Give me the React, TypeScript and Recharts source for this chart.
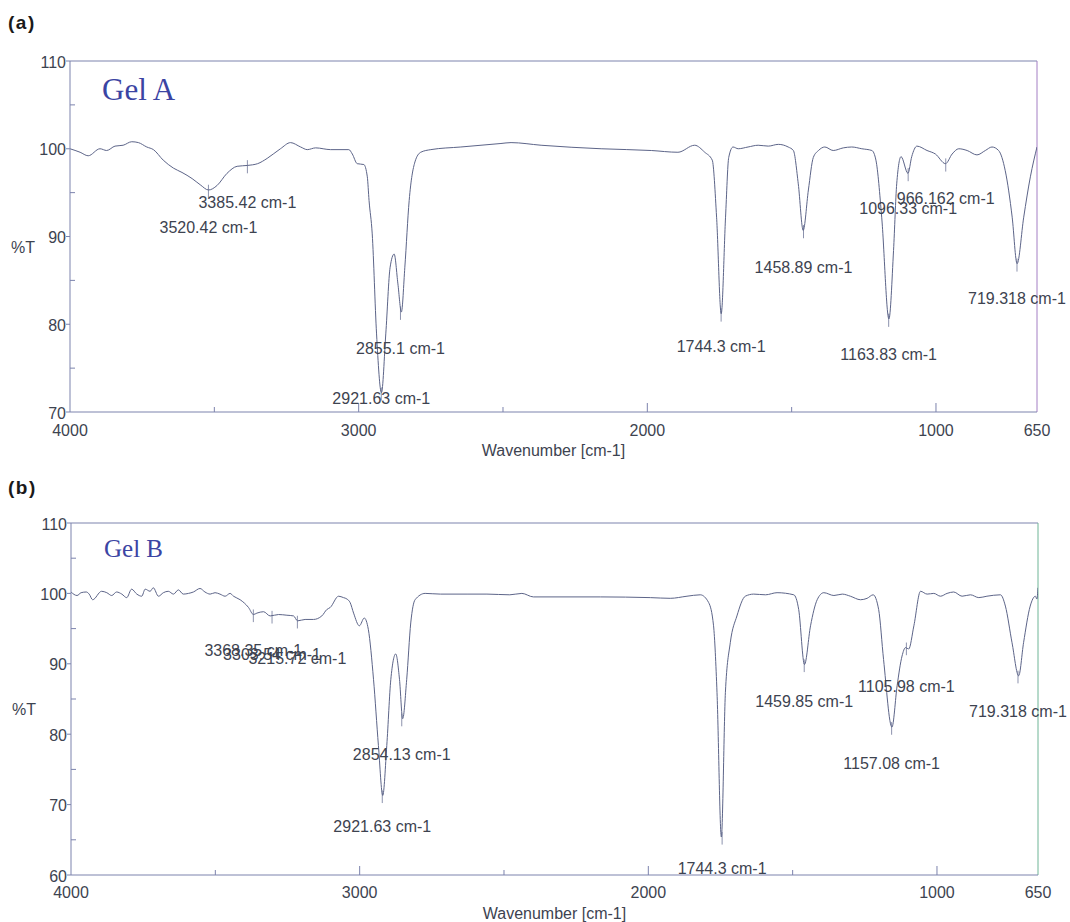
import { LineChart, Line, XAxis, YAxis, ReferenceLine, ReferenceDot } from "recharts";

// wavenumber axis (cm-1), shared by both panels
const WAVE_TICKS = [4000, 3500, 3000, 2500, 2000, 1500, 1000, 650];
const WAVE_LABELS = [4000, 3000, 2000, 1000, 650];
const GEL_A_T_TICKS = [70, 75, 80, 85, 90, 95, 100, 105, 110];
const GEL_B_T_TICKS = [60, 65, 70, 75, 80, 85, 90, 95, 100, 105, 110];

// [wavenumber, %T]
const GEL_A_SPECTRUM: [number, number][] = [
  [4000, 100.0], [3965, 99.6], [3937, 99.2], [3896, 100.0], [3873, 99.8], [3844, 100.3],
  [3816, 100.4], [3786, 100.8], [3763, 100.7], [3734, 100.2], [3711, 99.9], [3677, 98.7],
  [3642, 97.8], [3612, 97.3], [3577, 96.6], [3549, 95.9], [3520, 95.3], [3491, 95.8],
  [3456, 97.2], [3421, 98.0], [3385, 98.1], [3350, 98.3], [3317, 98.9], [3271, 100.0],
  [3236, 100.7], [3201, 100.2], [3178, 99.9], [3149, 100.1], [3097, 99.9], [3034, 99.9],
  [3022, 99.4], [3005, 98.3], [2982, 98.2], [2970, 96.8], [2964, 94.1], [2953, 90.3],
  [2938, 78.9], [2921, 72.2], [2906, 78.9], [2891, 86.5], [2877, 88.0], [2864, 84.6],
  [2852, 81.4], [2840, 86.5], [2825, 94.1], [2805, 98.5], [2785, 99.6], [2750, 99.9],
  [2646, 100.2], [2507, 100.6], [2472, 100.7], [2368, 100.4], [2160, 100.0], [1986, 99.8],
  [1894, 99.6], [1836, 100.4], [1801, 99.6], [1775, 98.7], [1760, 92.2], [1744, 81.2],
  [1729, 92.2], [1718, 99.0], [1703, 100.2], [1685, 100.0], [1651, 100.2], [1616, 100.4],
  [1581, 100.3], [1546, 100.5], [1512, 100.2], [1494, 99.8], [1477, 96.0], [1460, 90.7],
  [1442, 95.3], [1425, 99.0], [1407, 99.8], [1385, 100.2], [1356, 99.8], [1321, 100.1],
  [1292, 100.2], [1257, 100.0], [1222, 99.8], [1208, 98.7], [1188, 92.2], [1163, 80.6],
  [1147, 88.4], [1136, 96.0], [1121, 99.1], [1097, 97.2], [1084, 99.1], [1066, 100.3],
  [1031, 99.8], [1002, 99.4], [967, 98.3], [944, 99.4], [921, 100.0], [892, 99.8],
  [858, 99.3], [829, 99.8], [806, 100.2], [783, 99.8], [760, 97.5], [736, 92.2],
  [719, 86.9], [696, 92.2], [673, 96.8], [650, 100.2],
];

const GEL_B_SPECTRUM: [number, number][] = [
  [4000, 100.2], [3979, 99.7], [3965, 100.1], [3947, 100.2], [3937, 99.9], [3925, 99.1],
  [3894, 100.3], [3876, 100.1], [3859, 99.7], [3842, 100.2], [3824, 99.9], [3807, 99.4],
  [3790, 100.6], [3772, 99.9], [3755, 99.6], [3743, 100.6], [3726, 100.3], [3715, 100.8],
  [3697, 99.6], [3680, 100.1], [3663, 100.3], [3645, 99.9], [3628, 100.5], [3611, 99.9],
  [3593, 100.0], [3576, 100.2], [3553, 100.7], [3536, 100.2], [3518, 99.9], [3501, 100.1],
  [3484, 99.9], [3466, 99.6], [3449, 100.0], [3437, 99.6], [3414, 99.1], [3385, 98.0],
  [3368, 97.0], [3356, 97.2], [3333, 97.4], [3310, 96.8], [3281, 97.0], [3252, 96.9],
  [3229, 96.8], [3215, 96.1], [3189, 96.3], [3160, 96.3], [3131, 96.8], [3114, 97.7],
  [3102, 98.0], [3073, 99.6], [3056, 99.4], [3044, 99.2], [3033, 98.7], [3021, 97.2],
  [3001, 95.4], [2984, 96.5], [2970, 94.9], [2952, 87.8], [2935, 78.4], [2920, 71.3],
  [2906, 78.4], [2892, 87.8], [2875, 91.4], [2862, 87.8], [2851, 82.2], [2837, 87.8],
  [2823, 95.8], [2808, 99.1], [2773, 100.0], [2720, 99.9], [2628, 99.9], [2559, 99.9],
  [2480, 99.8], [2438, 100.0], [2398, 99.5], [2166, 99.5], [1993, 99.4], [1924, 99.3],
  [1866, 99.6], [1820, 99.8], [1791, 98.7], [1774, 95.4], [1762, 85.9], [1747, 65.4],
  [1733, 85.9], [1716, 93.0], [1693, 96.8], [1664, 99.6], [1635, 99.9], [1594, 99.8],
  [1554, 100.1], [1496, 99.8], [1479, 97.7], [1459, 89.9], [1438, 95.4], [1415, 99.1],
  [1392, 100.1], [1357, 99.7], [1328, 99.9], [1300, 99.6], [1265, 99.1], [1242, 99.3],
  [1221, 99.8], [1202, 97.7], [1185, 90.6], [1156, 81.0], [1138, 86.9], [1121, 91.1],
  [1109, 92.3], [1098, 92.1], [1080, 95.4], [1057, 100.3], [1034, 99.9], [1011, 100.0],
  [988, 99.6], [965, 100.0], [942, 100.2], [913, 99.6], [884, 99.8], [855, 99.4],
  [827, 99.6], [780, 99.8], [763, 98.2], [740, 93.0], [717, 88.3], [700, 93.0],
  [677, 98.2], [659, 99.6], [654, 99.2], [650, 100.8],
];

// peak labels: wavenumber printed by the instrument, %T where the text sits
const GEL_A_PEAKS = [
  { wn: 3385.42, t: 93.9 }, { wn: 3520.42, t: 91.0 }, { wn: 2855.1, t: 77.3 },
  { wn: 2921.63, t: 71.6 }, { wn: 1744.3, t: 77.5 }, { wn: 1458.89, t: 86.5 },
  { wn: 1163.83, t: 76.6 }, { wn: 1096.33, t: 93.2 }, { wn: 966.162, t: 94.3 },
  { wn: 719.318, t: 82.9 },
];

const GEL_B_PEAKS = [
  { wn: 3368.35, t: 91.9 }, { wn: 3303.54, t: 91.4 }, { wn: 3215.72, t: 90.8 },
  { wn: 2854.13, t: 77.2 }, { wn: 2921.63, t: 66.9 }, { wn: 1744.3, t: 60.9 },
  { wn: 1459.85, t: 84.7 }, { wn: 1105.98, t: 86.8 }, { wn: 1157.08, t: 75.8 },
  { wn: 719.318, t: 83.2 },
];

const FONT = "'Liberation Sans', Arial, sans-serif";
const SERIF = "'Liberation Serif', 'Times New Roman', serif";
const AXIS = "#7c83ad";
const TEXT = "#3d4350";
const CURVE = "#5c6488";

// %T of the recorded point closest to a peak, for the small peak marker
function nearestT(spectrum: [number, number][], wn: number) {
  let best = spectrum[0];
  for (const p of spectrum) if (Math.abs(p[0] - wn) < Math.abs(best[0] - wn)) best = p;
  return best[1];
}

function makeWaveTick(labelDy: number) {
  return ({ x, y, payload }: any) => {
    const v = payload.value;
    const major = WAVE_LABELS.includes(v);
    const edge = v === 4000 || v === 650;
    return (
      <g>
        {!edge && <line x1={x} x2={x} y1={y} y2={y - (major ? 9 : 5)} stroke={AXIS} />}
        {major && (
          <text x={x} y={y + labelDy} textAnchor="middle" fill={TEXT} fontSize={16} fontFamily={FONT}>
            {v}
          </text>
        )}
      </g>
    );
  };
}

function TTick({ x, y, payload }: any) {
  const major = payload.value % 10 === 0;
  return (
    <g>
      {major ? (
        <line x1={x - 4} x2={x} y1={y} y2={y} stroke={AXIS} />
      ) : (
        <line x1={x} x2={x + 5} y1={y} y2={y} stroke={AXIS} />
      )}
      {major && (
        <text x={x - 4} y={y + 6.5} textAnchor="end" fill={TEXT} fontSize={16} fontFamily={FONT}>
          {payload.value}
        </text>
      )}
    </g>
  );
}

interface PanelProps {
  spectrum: [number, number][];
  peaks: { wn: number; t: number }[];
  tTicks: number[];
  marginLeft: number;
  marginRight: number;
  xAxisHeight: number;
  tickDy: number;
  rightEdge: string;
  markerLen: number;
}

function SpectrumPanel({ spectrum, peaks, tTicks, marginLeft, marginRight, xAxisHeight, tickDy, rightEdge, markerLen }: PanelProps) {
  const data = spectrum.map(([wn, t]) => ({ wn, t }));
  const tMin = tTicks[0];
  const tMax = tTicks[tTicks.length - 1];
  return (
    <LineChart width={1070} height={460} data={data} margin={{ top: 61, right: marginRight, bottom: 0, left: marginLeft }}>
      <XAxis
        dataKey="wn"
        type="number"
        domain={[650, 4000]}
        reversed
        ticks={WAVE_TICKS}
        interval={0}
        allowDataOverflow
        height={xAxisHeight}
        stroke={AXIS}
        tickSize={0}
        tickMargin={0}
        tickLine={false}
        tick={makeWaveTick(tickDy)}
        label={{
          content: ({ viewBox }: any) => (
            <text x={viewBox.x + viewBox.width / 2} y={viewBox.y + 43.5} textAnchor="middle" fill={TEXT} fontSize={16} fontFamily={FONT}>
              Wavenumber [cm-1]
            </text>
          ),
        }}
      />
      <YAxis
        type="number"
        domain={[tMin, tMax]}
        ticks={tTicks}
        interval={0}
        allowDataOverflow
        width={60}
        stroke={AXIS}
        tickSize={0}
        tickMargin={0}
        tickLine={false}
        tick={<TTick />}
        label={{
          content: ({ viewBox }: any) => (
            <text x={viewBox.x + 1} y={viewBox.y + viewBox.height / 2 + 16} fill={TEXT} fontSize={16} fontFamily={FONT}>
              %T
            </text>
          ),
        }}
      />
      <ReferenceLine y={tMax} stroke={AXIS} strokeWidth={1} />
      <ReferenceLine x={650} stroke={rightEdge} strokeWidth={1} />
      {peaks.map((p) => {
        const t = nearestT(spectrum, p.wn);
        return (
          <ReferenceLine
            key={`m-${p.wn}`}
            segment={[{ x: p.wn, y: t - markerLen * 0.6 }, { x: p.wn, y: t + markerLen * 0.4 }]}
            stroke="#8c92ad"
            strokeWidth={1}
          />
        );
      })}
      <Line
        dataKey="t"
        type="monotone"
        stroke={CURVE}
        strokeWidth={1}
        dot={false}
        isAnimationActive={false}
      />
      {peaks.map((p) => (
        <ReferenceDot
          key={`${p.wn}-${p.t}`}
          x={p.wn}
          y={p.t}
          r={0}
          stroke="none"
          fill="none"
          label={{ value: `${p.wn} cm-1`, position: "center", fill: TEXT, fontSize: 16, fontFamily: FONT }}
        />
      ))}
    </LineChart>
  );
}

export default function App() {
  return (
    <div style={{ position: "absolute", left: 0, top: 0, width: 1070, height: 922, background: "#fff", fontFamily: FONT }}>
      <div style={{ position: "absolute", left: 8, top: 13, fontSize: 19, lineHeight: "19px", letterSpacing: 1.5, fontWeight: 700, color: "#1a1a1a" }}>(a)</div>
      <div style={{ position: "absolute", left: 8, top: 478, fontSize: 19, lineHeight: "19px", letterSpacing: 1.5, fontWeight: 700, color: "#1a1a1a" }}>(b)</div>

      <div style={{ position: "absolute", left: 0, top: 0 }}>
        <SpectrumPanel
          spectrum={GEL_A_SPECTRUM}
          peaks={GEL_A_PEAKS}
          tTicks={GEL_A_T_TICKS}
          marginLeft={10}
          marginRight={33}
          xAxisHeight={48}
          tickDy={24}
          rightEdge="#a47fc4"
          markerLen={1.5}
        />
      </div>
      <div style={{ position: "absolute", left: 0, top: 462 }}>
        <SpectrumPanel
          spectrum={GEL_B_SPECTRUM}
          peaks={GEL_B_PEAKS}
          tTicks={GEL_B_T_TICKS}
          marginLeft={11}
          marginRight={32}
          xAxisHeight={47}
          tickDy={23}
          rightEdge="#6fb596"
          markerLen={1.8}
        />
      </div>

      <div style={{ position: "absolute", left: 102, top: 74, fontFamily: SERIF, fontSize: 31, lineHeight: "31px", color: "#3b44a3" }}>
        Gel A
      </div>
      <div style={{ position: "absolute", left: 104, top: 536, fontFamily: SERIF, fontSize: 25, lineHeight: "25px", color: "#3b44a3" }}>
        Gel B
      </div>
    </div>
  );
}
